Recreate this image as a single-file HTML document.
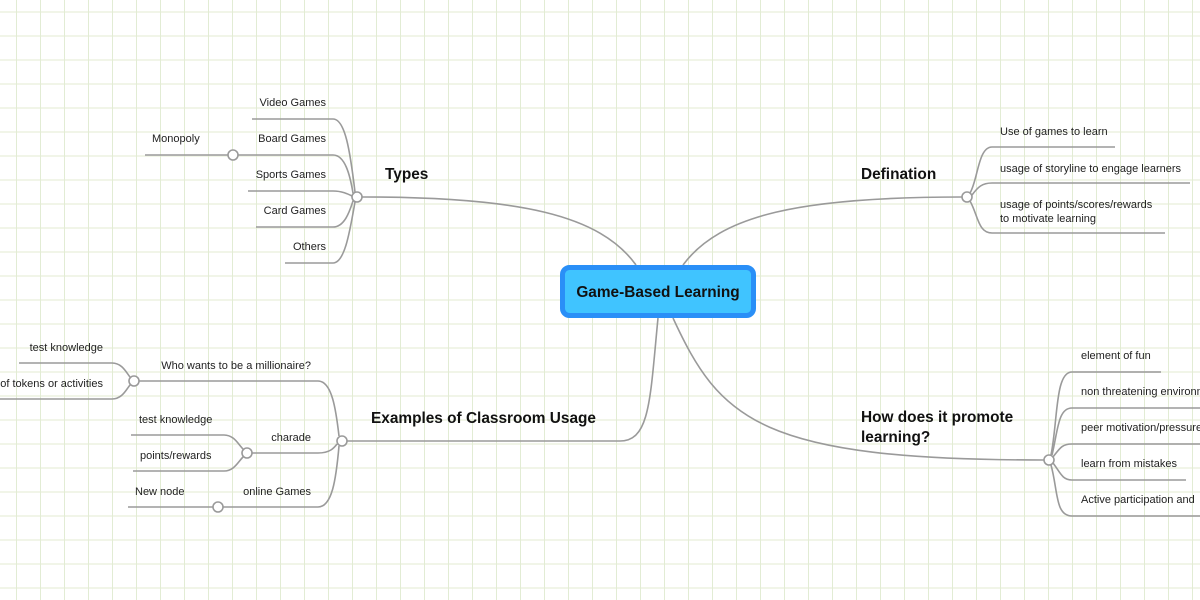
<!DOCTYPE html>
<html><head><meta charset="utf-8"><style>
html,body{margin:0;padding:0;width:1200px;height:600px;overflow:hidden;}
body{background-color:#fff;
background-image:linear-gradient(to right, transparent 16px, #e2ecd4 16px, #e2ecd4 17px, transparent 17px),
linear-gradient(to bottom, transparent 11px, #f1f5e8 11px, #f1f5e8 13px, transparent 13px);
background-size:24px 24px,24px 24px;}
svg{display:block;}
text{font-family:"Liberation Sans",sans-serif;fill:#222;}
.s{font-size:11px;}
.b{font-size:15.4px;font-weight:bold;fill:#111;}
</style></head><body>
<svg width="1200" height="600" viewBox="0 0 1200 600" xmlns="http://www.w3.org/2000/svg">
<g fill="none" stroke="#9a9a9a" stroke-width="1.6">
<path d="M636,265 C600,215 520,197 362,197"/>
<path d="M683,265 C720,215 800,197 962,197"/>
<path d="M673,318 C720,420 760,460 1044,460"/>
<path d="M658,318 C650,400 650,441 620,441 H347"/>
<path d="M252,119 H333 C345,119 350,150 355,192"/>
<path d="M238,155 H333 C345,155 350,175 353,193"/>
<path d="M145,155 H228"/>
<path d="M248,191 H333 C342,191 348,194 352,196"/>
<path d="M256,227 H333 C345,227 350,210 353,201"/>
<path d="M285,263 H333 C345,263 350,230 355,202"/>
<path d="M970,193 C978,180 978,147 992,147 H1115"/>
<path d="M972,195 C978,187 982,183 992,183 H1190"/>
<path d="M970,201 C978,215 978,233 992,233 H1165"/>
<path d="M1051,455 C1058,420 1055,372 1072,372 H1161"/>
<path d="M1052,455 C1058,430 1058,408 1072,408 H1200"/>
<path d="M1053,457 C1060,448 1062,444 1072,444 H1200"/>
<path d="M1053,463 C1060,472 1062,480 1072,480 H1186"/>
<path d="M1051,465 C1058,490 1055,516 1072,516 H1200"/>
<path d="M139,381 H318 C332,381 336,410 339,436"/>
<path d="M252,453 H318 C330,453 334,448 337,444"/>
<path d="M223,507 H318 C332,507 336,480 339,446"/>
<path d="M128,507 H213"/>
<path d="M19,363 H112 C122,363 126,372 130,377"/>
<path d="M0,399 H112 C122,399 126,390 130,385"/>
<path d="M131,435 H224 C234,435 238,444 243,449"/>
<path d="M133,471 H224 C234,471 238,462 243,457"/>
</g>
<g fill="#fff" stroke="#9a9a9a" stroke-width="1.6">
<circle cx="357" cy="197" r="5"/>
<circle cx="233" cy="155" r="5"/>
<circle cx="967" cy="197" r="5"/>
<circle cx="1049" cy="460" r="5"/>
<circle cx="342" cy="441" r="5"/>
<circle cx="134" cy="381" r="5"/>
<circle cx="247" cy="453" r="5"/>
<circle cx="218" cy="507" r="5"/>
</g>

<rect x="562.5" y="267.5" width="191" height="48" rx="7" fill="#40c4ff" stroke="#2a8ff7" stroke-width="5"/>
<text x="658" y="297" class="b" text-anchor="middle">Game-Based Learning</text>

<text x="385" y="179" class="b">Types</text>
<text x="861" y="179" class="b">Defination</text>
<text x="861" y="422" class="b">How does it promote</text>
<text x="861" y="442" class="b">learning?</text>
<text x="371" y="423" class="b">Examples of Classroom Usage</text>

<text x="326" y="106" text-anchor="end" class="s">Video Games</text>
<text x="326" y="142" text-anchor="end" class="s">Board Games</text>
<text x="326" y="178" text-anchor="end" class="s">Sports Games</text>
<text x="326" y="214" text-anchor="end" class="s">Card Games</text>
<text x="326" y="250" text-anchor="end" class="s">Others</text>
<text x="152" y="142" class="s">Monopoly</text>

<text x="1000" y="135" class="s">Use of games to learn</text>
<text x="1000" y="172" class="s">usage of storyline to engage learners</text>
<text x="1000" y="208" class="s">usage of points/scores/rewards</text>
<text x="1000" y="222" class="s">to motivate learning</text>

<text x="1081" y="359" class="s">element of fun</text>
<text x="1081" y="395" class="s">non threatening environment</text>
<text x="1081" y="431" class="s">peer motivation/pressure</text>
<text x="1081" y="467" class="s">learn from mistakes</text>
<text x="1081" y="503" class="s">Active participation and</text>

<text x="311" y="369" text-anchor="end" class="s">Who wants to be a millionaire?</text>
<text x="311" y="441" text-anchor="end" class="s">charade</text>
<text x="311" y="495" text-anchor="end" class="s">online Games</text>
<text x="103" y="351" text-anchor="end" class="s">test knowledge</text>
<text x="103" y="387" text-anchor="end" class="s">use of tokens or activities</text>
<text x="139" y="423" class="s">test knowledge</text>
<text x="140" y="459" class="s">points/rewards</text>
<text x="135" y="495" class="s">New node</text>
</svg>
</body></html>
